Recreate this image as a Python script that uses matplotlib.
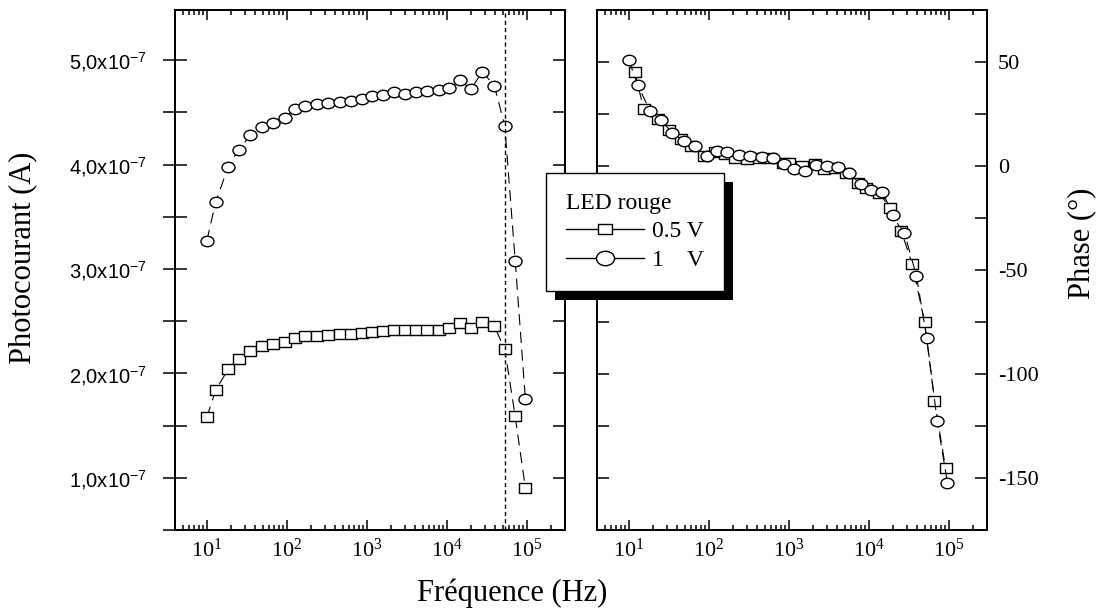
import numpy as np
import matplotlib
matplotlib.use('Agg')
import matplotlib.pyplot as plt
from matplotlib.path import Path
from matplotlib.transforms import Affine2D
from matplotlib.ticker import MultipleLocator, FuncFormatter, NullFormatter
from matplotlib.lines import Line2D
from matplotlib.patches import Rectangle

plt.rcParams['font.family'] = ['Liberation Serif', 'DejaVu Serif']
plt.rcParams['mathtext.fontset'] = 'custom'
plt.rcParams['mathtext.rm'] = 'Liberation Serif'
plt.rcParams['mathtext.sf'] = 'Liberation Sans'

# frequencies (Hz)
freq = [10, 12.9, 18.5, 25, 35, 49, 68, 94, 125, 171, 238, 330, 458, 627, 875,
        1160, 1615, 2210, 3040, 4160, 5700, 7880, 10750, 14750, 19950, 27900,
        39400, 53000, 71500, 96000]
# photocurrent, units of 1e-7 A
current_05 = [1.58, 1.84, 2.04, 2.14, 2.21, 2.26, 2.28, 2.30, 2.34, 2.36, 2.36,
              2.37, 2.38, 2.38, 2.39, 2.40, 2.41, 2.42, 2.42, 2.42, 2.42, 2.42,
              2.43, 2.48, 2.43, 2.49, 2.45, 2.23, 1.59, 0.90]
current_1 = [3.27, 3.64, 3.98, 4.14, 4.28, 4.36, 4.40, 4.45, 4.53, 4.56, 4.58,
             4.59, 4.60, 4.61, 4.63, 4.66, 4.67, 4.69, 4.68, 4.69, 4.70, 4.71,
             4.73, 4.81, 4.72, 4.89, 4.75, 4.37, 3.08, 1.75]
# phase (deg)
freq_phase_05 = [11.8, 15.4, 23, 32, 45, 60, 87, 118, 160, 215, 300, 420,
                 580, 841, 1000, 1450, 2100, 2790, 3800, 5250, 7290, 9330, 13500,
                 18500, 25400, 34900, 49700, 66200, 91000]
phase_05 = [45.3, 27.2, 22.4, 17.1, 12.8, 9.6, 4.8, 6.9, 5.6, 3.7, 3.5, 4.0,
            3.8, 1.6, 1.6, 0.0, 1.2, -1.6, -1.0, -3.2, -8.0, -10.4, -13.0, -20.3,
            -31.2, -47.2, -74.9, -112.8, -145.2]
phase_1 = [50.9, 38.9, 26.4, 22.1, 16.0, 12.0, 9.6, 4.8, 7.2, 6.7, 5.1, 4.8, 4.3,
           3.8, 0.8, -1.3, -2.2, 0.3, 0.0, -0.5, -3.5, -8.8, -11.5, -12.3, -23.5,
           -32.3, -52.8, -82.8, -122.4, -152.3]
f_cut = 5.3e4
labels = ['0.5 V', '1    V']

# slightly flattened open markers
ell = Path.unit_circle().transformed(Affine2D().scale(1.0, 0.8))
box = Path.unit_rectangle().transformed(Affine2D().translate(-0.5, -0.5).scale(1.0, 0.82))

W, H = 1099, 610
fig = plt.figure(figsize=(W / 100, H / 100), dpi=100)
ax1 = fig.add_axes([175 / W, 1 - 530 / H, 390 / W, 520 / H])
ax2 = fig.add_axes([597 / W, 1 - 530 / H, 390 / W, 520 / H])

line_kw = dict(color='black', lw=0.8, ls=(0, (10, 6)), mfc='white', mec='black', mew=1.0)

ax1.plot(freq, np.array(current_05) * 1e-7, marker=box, ms=8.6, **line_kw)
ax1.plot(freq, np.array(current_1) * 1e-7, marker=ell, ms=9.4, **line_kw)
ax1.axvline(f_cut, color='black', lw=1.0, ls=(0, (3, 2.2)))

ax2.plot(freq_phase_05, phase_05, marker=box, ms=8.6, **line_kw)
ax2.plot(freq, phase_1, marker=ell, ms=9.4, **line_kw)

for ax in (ax1, ax2):
    ax.set_xscale('log')
    ax.set_xlim(4, 3e5)
    ax.xaxis.set_minor_formatter(NullFormatter())
    ax.tick_params(axis='x', which='both', direction='in', top=True, bottom=True,
                   width=1.1, labelsize=16, pad=6)
    ax.tick_params(axis='x', which='major', length=7.2)
    ax.tick_params(axis='x', which='minor', length=3.6)
    for s in ax.spines.values():
        s.set_linewidth(1.4)

# left panel : current
ax1.set_ylim(0.5e-7, 5.48e-7)
ax1.yaxis.set_major_locator(MultipleLocator(1e-7))
ax1.yaxis.set_minor_locator(MultipleLocator(0.5e-7))
ax1.yaxis.set_major_formatter(FuncFormatter(
    lambda v, p: f"{v * 1e7:.1f}".replace('.', ',') + r"x10$^{\mathdefault{-7}}$"))
ax1.tick_params(axis='y', which='both', direction='out', left=True, right=False,
                length=9, width=1.1, labelsize=14.5, pad=11,
                labelfontfamily='Liberation Sans')
ax1.set_ylabel('Photocourant (A)', fontsize=22)
ax1.yaxis.set_label_coords(-0.354, 0.523)

# inner ticks of the left panel
ax1b = ax1.twinx()
ax1b.set_ylim(ax1.get_ylim())
ax1b.yaxis.set_major_locator(MultipleLocator(1e-7))
ax1b.yaxis.set_minor_locator(MultipleLocator(0.5e-7))
ax1b.tick_params(axis='y', which='both', direction='in', left=True, right=True,
                 labelleft=False, labelright=False, length=8.6, width=1.1)
for s in ax1b.spines.values():
    s.set_linewidth(1.4)

# right panel : phase
ax2.set_ylim(-175, 75)
ax2.yaxis.set_major_locator(MultipleLocator(50))
ax2.yaxis.set_minor_locator(MultipleLocator(25))
ax2.yaxis.set_major_formatter(FuncFormatter(lambda v, p: f"{int(round(v))}"))
ax2.yaxis.tick_right()
ax2.tick_params(axis='y', which='both', direction='in', left=True, right=True,
                labelleft=False, labelright=True, length=8.6, width=1.1,
                labelsize=16, pad=8)
ax2.yaxis.set_label_position('right')
ax2.set_ylabel('Phase (°)', fontsize=22)
ax2.yaxis.set_label_coords(1.205, 0.552)

fig.text(512 / W, 1 - 593 / H, 'Fréquence (Hz)', ha='center', va='center', fontsize=22)

handles = [
    Line2D([], [], color='black', lw=1.0, marker=box, ms=9.5, mfc='white', mec='black', mew=1.0),
    Line2D([], [], color='black', lw=1.0, marker=ell, ms=13, mfc='white', mec='black', mew=1.0),
]
leg = fig.legend(handles, labels, title='LED rouge', loc='upper left',
                 bbox_to_anchor=(545.7 / W, 1 - 172.7 / H), borderaxespad=0,
                 frameon=True, fancybox=False, framealpha=1, facecolor='white',
                 edgecolor='black', fontsize=17, title_fontsize=17,
                 handlelength=3.3, handletextpad=0.35, borderpad=0.85,
                 labelspacing=0.3, alignment='left')
leg.get_frame().set_linewidth(1.0)
leg.set_zorder(5)

# drop shadow behind the legend
fig.canvas.draw()
bb = leg.get_frame().get_window_extent()
inv = fig.transFigure.inverted()
(x0, y0), (x1, y1) = inv.transform([(bb.x0 + 9, bb.y0 - 9), (bb.x1 + 9, bb.y1 - 9)])
fig.add_artist(Rectangle((x0, y0), x1 - x0, y1 - y0, transform=fig.transFigure,
                         facecolor='black', edgecolor='none', zorder=4.9))

fig.savefig('out.png', dpi=100)
